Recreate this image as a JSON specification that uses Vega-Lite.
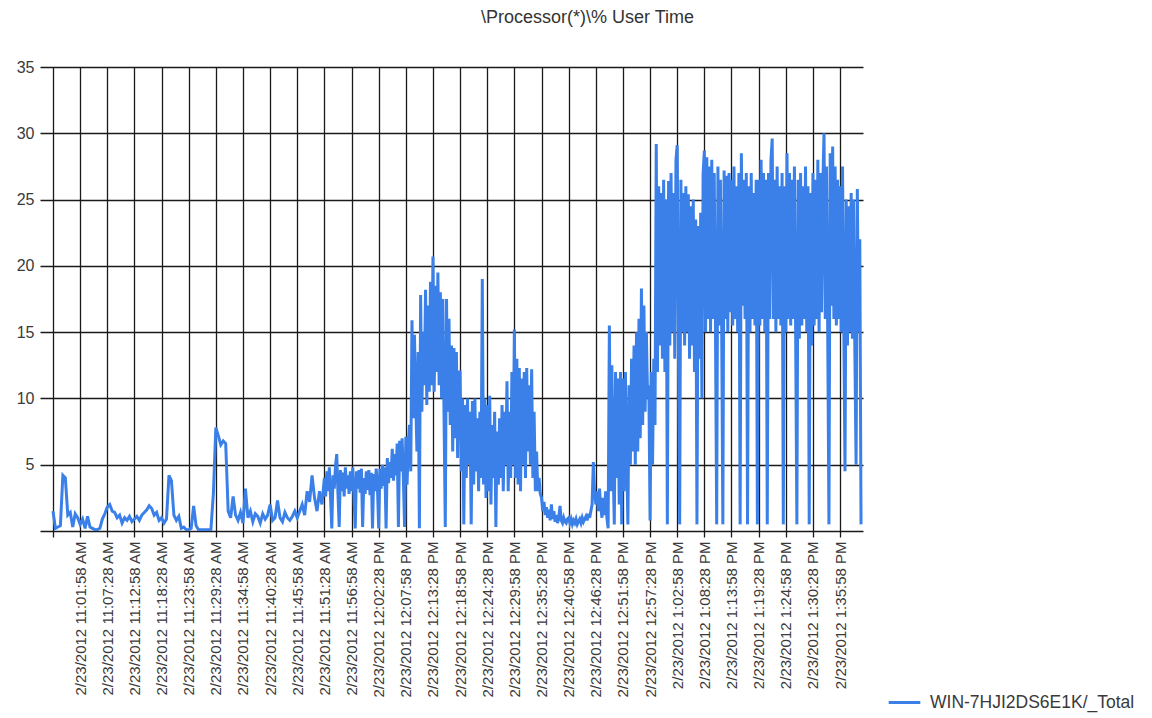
{
  "$schema": "https://vega.github.io/schema/vega-lite/v6.json",
  "width": 823,
  "height": 464,
  "autosize": "none",
  "padding": {"left": 40, "top": 67, "right": 289, "bottom": 187},
  "background": "white",
  "view": {"stroke": null},
  "title": {
    "text": "\\Processor(*)\\% User Time",
    "font": "Liberation Sans",
    "fontSize": 18,
    "fontWeight": "normal",
    "color": "#333333",
    "anchor": "middle",
    "baseline": "alphabetic",
    "offset": 18,
    "dx": 136
  },
  "data": {
    "format": {"parse": {"t": "utc:'%H:%M:%S'"}},
    "values": [
      {"t":"10:56:28","v":1.5},{"t":"10:56:58","v":0.2},{"t":"10:57:28","v":0.3},{"t":"10:57:58","v":0.4},{"t":"10:58:28","v":4.2},{"t":"10:58:58","v":4.0},{"t":"10:59:28","v":1.2},{"t":"10:59:58","v":1.4},{"t":"11:00:28","v":0.3},{"t":"11:00:58","v":1.3},{"t":"11:01:28","v":1.0},
      {"t":"11:01:58","v":0.5},{"t":"11:02:28","v":0.9},{"t":"11:02:58","v":0.2},{"t":"11:03:28","v":1.1},{"t":"11:03:58","v":0.3},{"t":"11:04:28","v":0.2},{"t":"11:04:58","v":0.1},{"t":"11:05:28","v":0.1},{"t":"11:05:58","v":0.2},{"t":"11:06:28","v":0.9},{"t":"11:06:58","v":1.3},
      {"t":"11:07:28","v":1.8},{"t":"11:07:58","v":2.0},{"t":"11:08:28","v":1.5},{"t":"11:08:58","v":1.4},{"t":"11:09:28","v":1.0},{"t":"11:09:58","v":1.2},{"t":"11:10:28","v":0.6},{"t":"11:10:58","v":1.0},{"t":"11:11:28","v":0.8},{"t":"11:11:58","v":1.1},{"t":"11:12:28","v":0.7},
      {"t":"11:12:58","v":0.9},{"t":"11:13:28","v":1.1},{"t":"11:13:58","v":0.8},{"t":"11:14:28","v":1.2},{"t":"11:14:58","v":1.4},{"t":"11:15:28","v":1.6},{"t":"11:15:58","v":1.9},{"t":"11:16:28","v":1.7},{"t":"11:16:58","v":1.2},{"t":"11:17:28","v":1.4},{"t":"11:17:58","v":0.8},
      {"t":"11:18:28","v":1.0},{"t":"11:18:58","v":0.6},{"t":"11:19:28","v":0.9},{"t":"11:19:58","v":4.2},{"t":"11:20:28","v":3.8},{"t":"11:20:58","v":1.2},{"t":"11:21:28","v":0.8},{"t":"11:21:58","v":1.1},{"t":"11:22:28","v":0.2},{"t":"11:22:58","v":0.3},{"t":"11:23:28","v":0.1},
      {"t":"11:23:58","v":0.1},{"t":"11:24:28","v":0.2},{"t":"11:24:58","v":1.9},{"t":"11:25:28","v":0.4},{"t":"11:25:58","v":0.1},{"t":"11:26:28","v":0.1},{"t":"11:26:58","v":0.1},{"t":"11:27:28","v":0.1},{"t":"11:27:58","v":0.1},{"t":"11:28:28","v":0.1},{"t":"11:28:58","v":2.8},
      {"t":"11:29:28","v":7.8},{"t":"11:29:58","v":7.2},{"t":"11:30:28","v":6.5},{"t":"11:30:58","v":6.8},{"t":"11:31:28","v":6.6},{"t":"11:31:58","v":1.5},{"t":"11:32:28","v":1.0},{"t":"11:32:58","v":2.6},{"t":"11:33:28","v":1.2},{"t":"11:33:58","v":0.8},{"t":"11:34:28","v":1.4},
      {"t":"11:34:58","v":0.6},{"t":"11:35:28","v":3.2},{"t":"11:35:58","v":1.0},{"t":"11:36:28","v":1.5},{"t":"11:36:58","v":0.7},{"t":"11:37:28","v":1.3},{"t":"11:37:58","v":1.1},{"t":"11:38:28","v":0.6},{"t":"11:38:58","v":1.3},{"t":"11:39:28","v":0.9},{"t":"11:39:58","v":1.2},
      {"t":"11:40:28","v":2.0},{"t":"11:40:58","v":0.8},{"t":"11:41:28","v":1.0},{"t":"11:41:58","v":2.3},{"t":"11:42:28","v":1.0},{"t":"11:42:58","v":0.7},{"t":"11:43:28","v":1.4},{"t":"11:43:58","v":1.0},{"t":"11:44:28","v":0.8},{"t":"11:44:58","v":1.1},{"t":"11:45:28","v":1.5},
      {"t":"11:45:58","v":1.0},{"t":"11:46:28","v":1.5},{"t":"11:46:58","v":2.0},{"t":"11:47:28","v":1.2},{"t":"11:47:58","v":3.0},{"t":"11:48:28","v":2.2},{"t":"11:48:58","v":4.2},{"t":"11:49:28","v":2.5},{"t":"11:49:58","v":1.5},{"t":"11:50:28","v":3.0},{"t":"11:50:58","v":2.0},
      {"t":"11:51:28","v":4.0},{"t":"11:51:43","v":2.6},{"t":"11:51:58","v":4.5},{"t":"11:52:13","v":3.0},{"t":"11:52:28","v":4.8},{"t":"11:52:43","v":2.5},{"t":"11:52:58","v":0.2},{"t":"11:53:13","v":4.2},{"t":"11:53:28","v":3.2},{"t":"11:53:43","v":4.9},{"t":"11:53:58","v":5.8},{"t":"11:54:13","v":2.8},{"t":"11:54:28","v":0.3},{"t":"11:54:43","v":4.6},{"t":"11:54:58","v":3.0},{"t":"11:55:13","v":4.4},{"t":"11:55:28","v":2.6},{"t":"11:55:43","v":4.8},{"t":"11:55:58","v":3.2},{"t":"11:56:13","v":4.2},{"t":"11:56:28","v":2.8},{"t":"11:56:43","v":4.5},
      {"t":"11:56:58","v":3.0},{"t":"11:57:13","v":4.8},{"t":"11:57:28","v":2.6},{"t":"11:57:43","v":0.2},{"t":"11:57:58","v":4.5},{"t":"11:58:13","v":3.2},{"t":"11:58:28","v":4.6},{"t":"11:58:43","v":2.9},{"t":"11:58:58","v":4.7},{"t":"11:59:13","v":0.3},{"t":"11:59:28","v":4.0},{"t":"11:59:43","v":2.8},{"t":"11:59:58","v":4.5},{"t":"12:00:13","v":3.1},{"t":"12:00:28","v":4.6},{"t":"12:00:43","v":2.7},{"t":"12:00:58","v":4.4},{"t":"12:01:13","v":0.2},{"t":"12:01:28","v":4.3},{"t":"12:01:43","v":3.0},{"t":"12:01:58","v":4.7},{"t":"12:02:13","v":3.3},
      {"t":"12:02:28","v":0.2},{"t":"12:02:43","v":4.7},{"t":"12:02:58","v":3.2},{"t":"12:03:13","v":5.0},{"t":"12:03:28","v":3.4},{"t":"12:03:43","v":4.8},{"t":"12:03:58","v":0.2},{"t":"12:04:13","v":5.5},{"t":"12:04:28","v":3.6},{"t":"12:04:43","v":5.2},{"t":"12:04:58","v":4.0},{"t":"12:05:13","v":6.2},{"t":"12:05:28","v":3.8},{"t":"12:05:43","v":5.8},{"t":"12:05:58","v":4.2},{"t":"12:06:13","v":6.6},{"t":"12:06:28","v":0.3},{"t":"12:06:43","v":6.8},{"t":"12:06:58","v":4.5},{"t":"12:07:13","v":7.0},{"t":"12:07:28","v":4.0},{"t":"12:07:43","v":0.3},
      {"t":"12:07:58","v":7.1},{"t":"12:08:13","v":3.5},{"t":"12:08:28","v":6.5},{"t":"12:08:43","v":8.0},{"t":"12:08:58","v":4.5},{"t":"12:09:13","v":15.9},{"t":"12:09:28","v":8.5},{"t":"12:09:43","v":14.8},{"t":"12:09:58","v":10.0},{"t":"12:10:13","v":6.0},{"t":"12:10:28","v":13.5},{"t":"12:10:43","v":0.2},{"t":"12:10:58","v":17.8},{"t":"12:11:13","v":9.0},{"t":"12:11:28","v":15.0},{"t":"12:11:43","v":11.0},{"t":"12:11:58","v":18.2},{"t":"12:12:13","v":9.5},{"t":"12:12:28","v":17.0},{"t":"12:12:43","v":10.5},{"t":"12:12:58","v":18.8},{"t":"12:13:13","v":11.0},
      {"t":"12:13:28","v":20.7},{"t":"12:13:43","v":10.5},{"t":"12:13:58","v":18.5},{"t":"12:14:13","v":12.0},{"t":"12:14:28","v":19.5},{"t":"12:14:43","v":11.0},{"t":"12:14:58","v":18.0},{"t":"12:15:13","v":10.0},{"t":"12:15:28","v":17.5},{"t":"12:15:43","v":8.5},{"t":"12:15:58","v":0.3},{"t":"12:16:13","v":17.5},{"t":"12:16:28","v":9.0},{"t":"12:16:43","v":16.0},{"t":"12:16:58","v":8.0},{"t":"12:17:13","v":14.0},{"t":"12:17:28","v":6.0},{"t":"12:17:43","v":13.8},{"t":"12:17:58","v":7.0},{"t":"12:18:13","v":13.5},{"t":"12:18:28","v":5.5},{"t":"12:18:43","v":12.0},
      {"t":"12:18:58","v":12.0},{"t":"12:19:13","v":4.5},{"t":"12:19:28","v":10.0},{"t":"12:19:43","v":0.5},{"t":"12:19:58","v":9.5},{"t":"12:20:13","v":4.0},{"t":"12:20:28","v":10.0},{"t":"12:20:43","v":5.0},{"t":"12:20:58","v":9.0},{"t":"12:21:13","v":0.5},{"t":"12:21:28","v":9.8},{"t":"12:21:43","v":3.5},{"t":"12:21:58","v":10.0},{"t":"12:22:13","v":4.5},{"t":"12:22:28","v":8.5},{"t":"12:22:43","v":3.0},{"t":"12:22:58","v":9.0},{"t":"12:23:13","v":4.0},{"t":"12:23:28","v":19.0},{"t":"12:23:43","v":3.5},{"t":"12:23:58","v":10.0},{"t":"12:24:13","v":2.5},
      {"t":"12:24:28","v":9.5},{"t":"12:24:43","v":3.0},{"t":"12:24:58","v":10.2},{"t":"12:25:13","v":2.0},{"t":"12:25:28","v":8.0},{"t":"12:25:43","v":4.0},{"t":"12:25:58","v":9.0},{"t":"12:26:13","v":0.3},{"t":"12:26:28","v":7.5},{"t":"12:26:43","v":3.5},{"t":"12:26:58","v":8.5},{"t":"12:27:13","v":4.0},{"t":"12:27:28","v":9.5},{"t":"12:27:43","v":3.0},{"t":"12:27:58","v":9.0},{"t":"12:28:13","v":5.0},{"t":"12:28:28","v":11.3},{"t":"12:28:43","v":3.0},{"t":"12:28:58","v":9.0},{"t":"12:29:13","v":4.0},{"t":"12:29:28","v":12.0},{"t":"12:29:43","v":5.0},
      {"t":"12:29:58","v":15.2},{"t":"12:30:13","v":4.0},{"t":"12:30:28","v":13.0},{"t":"12:30:43","v":3.5},{"t":"12:30:58","v":12.3},{"t":"12:31:13","v":3.0},{"t":"12:31:28","v":11.5},{"t":"12:31:43","v":5.0},{"t":"12:31:58","v":12.0},{"t":"12:32:13","v":4.0},{"t":"12:32:28","v":12.3},{"t":"12:32:43","v":6.0},{"t":"12:32:58","v":11.0},{"t":"12:33:13","v":5.0},{"t":"12:33:28","v":12.2},{"t":"12:33:43","v":4.0},{"t":"12:33:58","v":9.0},{"t":"12:34:13","v":3.0},{"t":"12:34:28","v":6.0},{"t":"12:34:43","v":3.0},{"t":"12:34:58","v":4.0},{"t":"12:35:13","v":2.8},
      {"t":"12:35:28","v":2.5},{"t":"12:35:43","v":1.5},{"t":"12:35:58","v":2.2},{"t":"12:36:13","v":1.2},{"t":"12:36:28","v":1.8},{"t":"12:36:43","v":1.0},{"t":"12:36:58","v":1.6},{"t":"12:37:13","v":0.8},{"t":"12:37:28","v":2.0},{"t":"12:37:43","v":0.9},{"t":"12:37:58","v":1.5},{"t":"12:38:13","v":0.7},{"t":"12:38:28","v":1.2},{"t":"12:38:43","v":0.6},{"t":"12:38:58","v":1.0},{"t":"12:39:13","v":1.9},{"t":"12:39:28","v":0.8},{"t":"12:39:43","v":0.6},{"t":"12:39:58","v":1.0},{"t":"12:40:13","v":0.7},{"t":"12:40:28","v":0.6},{"t":"12:40:43","v":0.9},
      {"t":"12:40:58","v":1.0},{"t":"12:41:13","v":0.6},{"t":"12:41:28","v":0.9},{"t":"12:41:43","v":0.5},{"t":"12:41:58","v":0.8},{"t":"12:42:13","v":0.6},{"t":"12:42:28","v":0.9},{"t":"12:42:43","v":0.5},{"t":"12:42:58","v":0.7},{"t":"12:43:13","v":0.9},{"t":"12:43:28","v":0.6},{"t":"12:43:43","v":1.0},{"t":"12:43:58","v":0.7},{"t":"12:44:13","v":0.9},{"t":"12:44:28","v":1.1},{"t":"12:44:43","v":0.8},{"t":"12:44:58","v":1.3},{"t":"12:45:13","v":1.0},{"t":"12:45:28","v":1.5},{"t":"12:45:43","v":2.0},{"t":"12:45:58","v":5.2},{"t":"12:46:13","v":3.0},
      {"t":"12:46:28","v":2.0},{"t":"12:46:43","v":3.0},{"t":"12:46:58","v":1.5},{"t":"12:47:13","v":3.2},{"t":"12:47:28","v":1.8},{"t":"12:47:43","v":1.0},{"t":"12:47:58","v":2.5},{"t":"12:48:13","v":1.2},{"t":"12:48:28","v":3.0},{"t":"12:48:43","v":1.0},{"t":"12:48:58","v":0.2},{"t":"12:49:13","v":15.5},{"t":"12:49:28","v":3.0},{"t":"12:49:43","v":12.5},{"t":"12:49:58","v":5.0},{"t":"12:50:13","v":0.5},{"t":"12:50:28","v":12.0},{"t":"12:50:43","v":4.0},{"t":"12:50:58","v":11.5},{"t":"12:51:13","v":2.0},{"t":"12:51:28","v":12.0},{"t":"12:51:43","v":0.5},
      {"t":"12:51:58","v":11.5},{"t":"12:52:13","v":3.0},{"t":"12:52:28","v":12.0},{"t":"12:52:43","v":6.0},{"t":"12:52:58","v":0.5},{"t":"12:53:13","v":11.0},{"t":"12:53:28","v":5.0},{"t":"12:53:43","v":13.0},{"t":"12:53:58","v":6.0},{"t":"12:54:13","v":14.0},{"t":"12:54:28","v":5.0},{"t":"12:54:43","v":15.0},{"t":"12:54:58","v":6.0},{"t":"12:55:13","v":16.0},{"t":"12:55:28","v":7.0},{"t":"12:55:43","v":18.3},{"t":"12:55:58","v":8.0},{"t":"12:56:13","v":17.0},{"t":"12:56:28","v":9.0},{"t":"12:56:43","v":15.0},{"t":"12:56:58","v":10.0},{"t":"12:57:13","v":11.0},
      {"t":"12:57:28","v":0.8},{"t":"12:57:43","v":12.0},{"t":"12:57:58","v":5.0},{"t":"12:58:13","v":13.0},{"t":"12:58:28","v":8.0},{"t":"12:58:43","v":29.2},{"t":"12:58:58","v":12.0},{"t":"12:59:13","v":26.0},{"t":"12:59:28","v":14.0},{"t":"12:59:43","v":25.5},{"t":"12:59:58","v":13.0},{"t":"13:00:13","v":26.5},{"t":"13:00:28","v":12.0},{"t":"13:00:43","v":25.0},{"t":"13:00:58","v":0.5},{"t":"13:01:13","v":26.4},{"t":"13:01:28","v":14.0},{"t":"13:01:43","v":27.0},{"t":"13:01:58","v":15.0},{"t":"13:02:13","v":25.5},{"t":"13:02:28","v":13.0},{"t":"13:02:43","v":28.0},
      {"t":"13:02:58","v":29.1},{"t":"13:03:13","v":14.0},{"t":"13:03:28","v":0.5},{"t":"13:03:43","v":26.5},{"t":"13:03:58","v":15.0},{"t":"13:04:13","v":25.5},{"t":"13:04:28","v":14.0},{"t":"13:04:43","v":26.0},{"t":"13:04:58","v":15.0},{"t":"13:05:13","v":25.4},{"t":"13:05:28","v":13.0},{"t":"13:05:43","v":24.5},{"t":"13:05:58","v":14.0},{"t":"13:06:13","v":25.0},{"t":"13:06:28","v":12.0},{"t":"13:06:43","v":23.5},{"t":"13:06:58","v":0.5},{"t":"13:07:13","v":23.0},{"t":"13:07:28","v":13.0},{"t":"13:07:43","v":24.0},{"t":"13:07:58","v":10.0},{"t":"13:08:13","v":27.0},
      {"t":"13:08:28","v":28.7},{"t":"13:08:43","v":15.0},{"t":"13:08:58","v":28.2},{"t":"13:09:13","v":16.0},{"t":"13:09:28","v":27.5},{"t":"13:09:43","v":15.0},{"t":"13:09:58","v":28.0},{"t":"13:10:13","v":16.0},{"t":"13:10:28","v":27.0},{"t":"13:10:43","v":15.5},{"t":"13:10:58","v":0.5},{"t":"13:11:13","v":27.5},{"t":"13:11:28","v":15.5},{"t":"13:11:43","v":26.5},{"t":"13:11:58","v":16.0},{"t":"13:12:13","v":0.5},{"t":"13:12:28","v":27.2},{"t":"13:12:43","v":16.0},{"t":"13:12:58","v":26.8},{"t":"13:13:13","v":15.0},{"t":"13:13:28","v":27.0},{"t":"13:13:43","v":16.5},
      {"t":"13:13:58","v":26.5},{"t":"13:14:13","v":15.5},{"t":"13:14:28","v":27.5},{"t":"13:14:43","v":16.0},{"t":"13:14:58","v":26.0},{"t":"13:15:13","v":15.0},{"t":"13:15:28","v":27.0},{"t":"13:15:43","v":0.5},{"t":"13:15:58","v":28.5},{"t":"13:16:13","v":17.0},{"t":"13:16:28","v":26.5},{"t":"13:16:43","v":16.0},{"t":"13:16:58","v":27.0},{"t":"13:17:13","v":0.5},{"t":"13:17:28","v":26.0},{"t":"13:17:43","v":15.0},{"t":"13:17:58","v":27.0},{"t":"13:18:13","v":16.0},{"t":"13:18:28","v":25.5},{"t":"13:18:43","v":15.5},{"t":"13:18:58","v":26.5},{"t":"13:19:13","v":0.5},
      {"t":"13:19:28","v":26.5},{"t":"13:19:43","v":15.5},{"t":"13:19:58","v":28.0},{"t":"13:20:13","v":16.0},{"t":"13:20:28","v":27.0},{"t":"13:20:43","v":15.0},{"t":"13:20:58","v":26.5},{"t":"13:21:13","v":0.5},{"t":"13:21:28","v":27.0},{"t":"13:21:43","v":16.0},{"t":"13:21:58","v":28.0},{"t":"13:22:13","v":29.6},{"t":"13:22:28","v":16.0},{"t":"13:22:43","v":26.5},{"t":"13:22:58","v":15.0},{"t":"13:23:13","v":27.5},{"t":"13:23:28","v":16.0},{"t":"13:23:43","v":26.0},{"t":"13:23:58","v":15.5},{"t":"13:24:13","v":27.0},{"t":"13:24:28","v":0.5},{"t":"13:24:43","v":26.0},
      {"t":"13:24:58","v":15.0},{"t":"13:25:13","v":28.5},{"t":"13:25:28","v":16.0},{"t":"13:25:43","v":27.0},{"t":"13:25:58","v":15.5},{"t":"13:26:13","v":26.5},{"t":"13:26:28","v":16.0},{"t":"13:26:43","v":27.5},{"t":"13:26:58","v":15.0},{"t":"13:27:13","v":0.5},{"t":"13:27:28","v":26.5},{"t":"13:27:43","v":14.5},{"t":"13:27:58","v":27.0},{"t":"13:28:13","v":15.5},{"t":"13:28:28","v":26.0},{"t":"13:28:43","v":16.0},{"t":"13:28:58","v":27.5},{"t":"13:29:13","v":15.0},{"t":"13:29:28","v":26.0},{"t":"13:29:43","v":0.5},{"t":"13:29:58","v":25.5},{"t":"13:30:13","v":14.0},
      {"t":"13:30:28","v":27.0},{"t":"13:30:43","v":15.5},{"t":"13:30:58","v":26.5},{"t":"13:31:13","v":16.0},{"t":"13:31:28","v":28.0},{"t":"13:31:43","v":15.0},{"t":"13:31:58","v":27.0},{"t":"13:32:13","v":16.5},{"t":"13:32:28","v":26.0},{"t":"13:32:43","v":30.0},{"t":"13:32:58","v":16.0},{"t":"13:33:13","v":27.5},{"t":"13:33:28","v":15.0},{"t":"13:33:43","v":0.5},{"t":"13:33:58","v":28.5},{"t":"13:34:13","v":17.0},{"t":"13:34:28","v":29.0},{"t":"13:34:43","v":16.0},{"t":"13:34:58","v":27.5},{"t":"13:35:13","v":15.5},{"t":"13:35:28","v":26.5},{"t":"13:35:43","v":16.0},
      {"t":"13:35:58","v":26.0},{"t":"13:36:13","v":15.0},{"t":"13:36:28","v":27.5},{"t":"13:36:43","v":16.0},{"t":"13:36:58","v":4.5},{"t":"13:37:13","v":25.0},{"t":"13:37:28","v":14.0},{"t":"13:37:43","v":24.5},{"t":"13:37:58","v":15.0},{"t":"13:38:13","v":25.5},{"t":"13:38:28","v":14.5},{"t":"13:38:43","v":25.0},{"t":"13:38:58","v":13.5},{"t":"13:39:13","v":5.0},{"t":"13:39:28","v":25.8},{"t":"13:39:43","v":15.0},{"t":"13:39:58","v":22.0},{"t":"13:40:13","v":0.5}
    ]
  },
  "mark": {"type": "line", "strokeWidth": 3, "interpolate": "linear", "strokeJoin": "miter", "clip": true},
  "encoding": {
    "x": {
      "field": "t",
      "type": "temporal",
      "scale": {"type": "utc", "domain": [-2208949570000, -2208939563000]},
      "axis": {
        "title": null,
        "values": [-2208949412000, -2208949082000, -2208948752000, -2208948422000, -2208948092000, -2208947762000, -2208947432000, -2208947102000, -2208946772000, -2208946442000, -2208946112000, -2208945782000, -2208945452000, -2208945122000, -2208944792000, -2208944462000, -2208944132000, -2208943802000, -2208943472000, -2208943142000, -2208942812000, -2208942482000, -2208942152000, -2208941822000, -2208941492000, -2208941162000, -2208940832000, -2208940502000, -2208940172000, -2208939842000],
        "labelExpr": "datum.value < -2208949300000 ? '' : '2/23/2012 ' + utcFormat(datum.value, '%-I:%M:%S %p')",
        "labelAngle": 270,
        "labelAlign": "right",
        "labelBaseline": "middle",
        "labelFont": "Liberation Sans",
        "labelFontSize": 15,
        "labelColor": "#3a3a3a",
        "labelPadding": 4,
        "labelOverlap": false,
        "labelFlush": false,
        "labelBound": false,
        "grid": true,
        "gridColor": "#1a1a1a",
        "gridWidth": 1.3,
        "gridOpacity": 1,
        "domain": true,
        "domainColor": "#1a1a1a",
        "domainWidth": 1.5,
        "ticks": true,
        "tickColor": "#1a1a1a",
        "tickSize": 6,
        "tickWidth": 1.3
      }
    },
    "y": {
      "field": "v",
      "type": "quantitative",
      "scale": {"domain": [0, 35], "nice": false, "zero": true},
      "axis": {
        "title": null,
        "values": [5, 10, 15, 20, 25, 30, 35],
        "grid": true,
        "gridColor": "#1a1a1a",
        "gridWidth": 1.3,
        "gridOpacity": 1,
        "domain": false,
        "ticks": false,
        "labelFont": "Liberation Sans",
        "labelFontSize": 16,
        "labelColor": "#3a3a3a",
        "labelPadding": 6
      }
    },
    "color": {
      "datum": "WIN-7HJI2DS6E1K/_Total",
      "type": "nominal",
      "scale": {"range": ["#3a80e8"]},
      "legend": {
        "title": null,
        "orient": "none",
        "legendX": 847,
        "legendY": 618,
        "symbolType": "stroke",
        "symbolSize": 1000,
        "symbolStrokeWidth": 3,
        "labelFont": "Liberation Sans",
        "labelFontSize": 17.5,
        "labelColor": "#3a3a3a",
        "labelOffset": 8,
        "labelLimit": 0
      }
    }
  }
}
